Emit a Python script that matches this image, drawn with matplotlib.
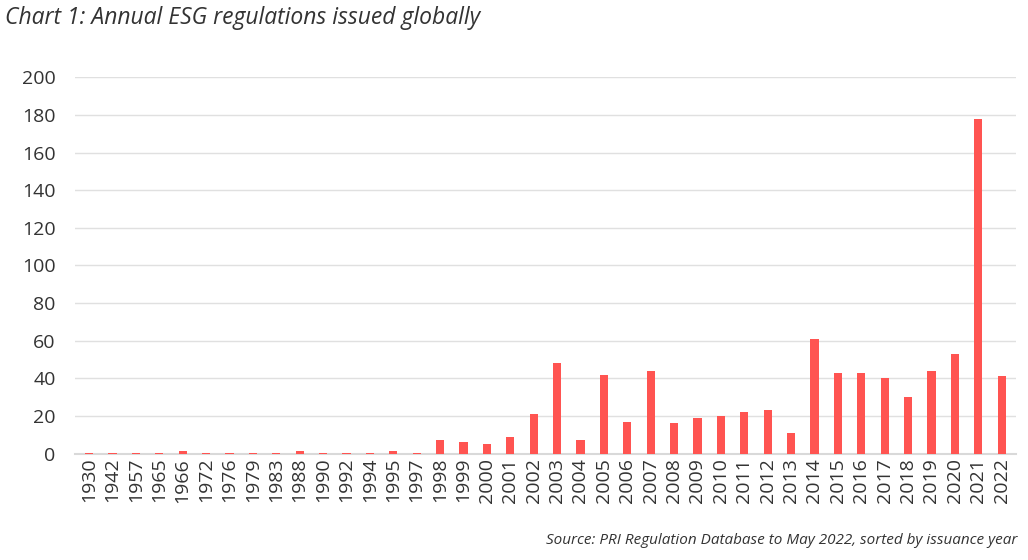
import matplotlib.pyplot as plt

years = ["1930","1942","1957","1965","1966","1972","1976","1979","1983","1988","1990","1992","1994","1995","1997",
         "1998","1999","2000","2001","2002","2003","2004","2005","2006","2007","2008","2009","2010","2011","2012",
         "2013","2014","2015","2016","2017","2018","2019","2020","2021","2022"]
counts = [0.3,0.3,0.3,0.3,1.5,0.3,0.3,0.3,0.3,1.5,0.3,0.3,0.3,1.5,0.3,
          7,6,5,9,21,48,7,42,17,44,16,19,20,22,23,
          11,61,43,43,40,30,44,53,178,41]

plt.rcParams['font.family'] = ['Open Sans', 'DejaVu Sans']
fig = plt.figure(figsize=(10.28, 5.6), dpi=100)
ax = fig.add_axes([0.073, 0.19, 0.915, 0.672])
x = range(len(years))
ax.bar(x, counts, width=0.35, color='#FF5451', zorder=3)
ax.set_xlim(-0.6, len(years) - 0.4)
ax.set_ylim(0, 200)
ax.set_yticks(range(0, 201, 20))
ax.set_xticks(list(x))
ax.set_xticklabels(years, rotation=90, fontsize=14, color='#333333')
ax.tick_params(axis='y', labelsize=14, colors='#333333', length=0, pad=14)
ax.tick_params(axis='x', length=0, pad=3)
ax.grid(axis='y', color='#e0e0e0', linewidth=1, zorder=0)
for s in ['top', 'right', 'left']:
    ax.spines[s].set_visible(False)
ax.spines['bottom'].set_color('#d9d9d9')
ax.spines['bottom'].set_linewidth(1.5)
fig.text(0.005, 0.968, "Chart 1: Annual ESG regulations issued globally", fontsize=16.5,
         style='italic', color='#333333', ha='left', va='center')
fig.text(0.99, 0.035, "Source: PRI Regulation Database to May 2022, sorted by issuance year",
         fontsize=11, style='italic', color='#333333', ha='right', va='center')
fig.savefig('out.png', dpi=100)
